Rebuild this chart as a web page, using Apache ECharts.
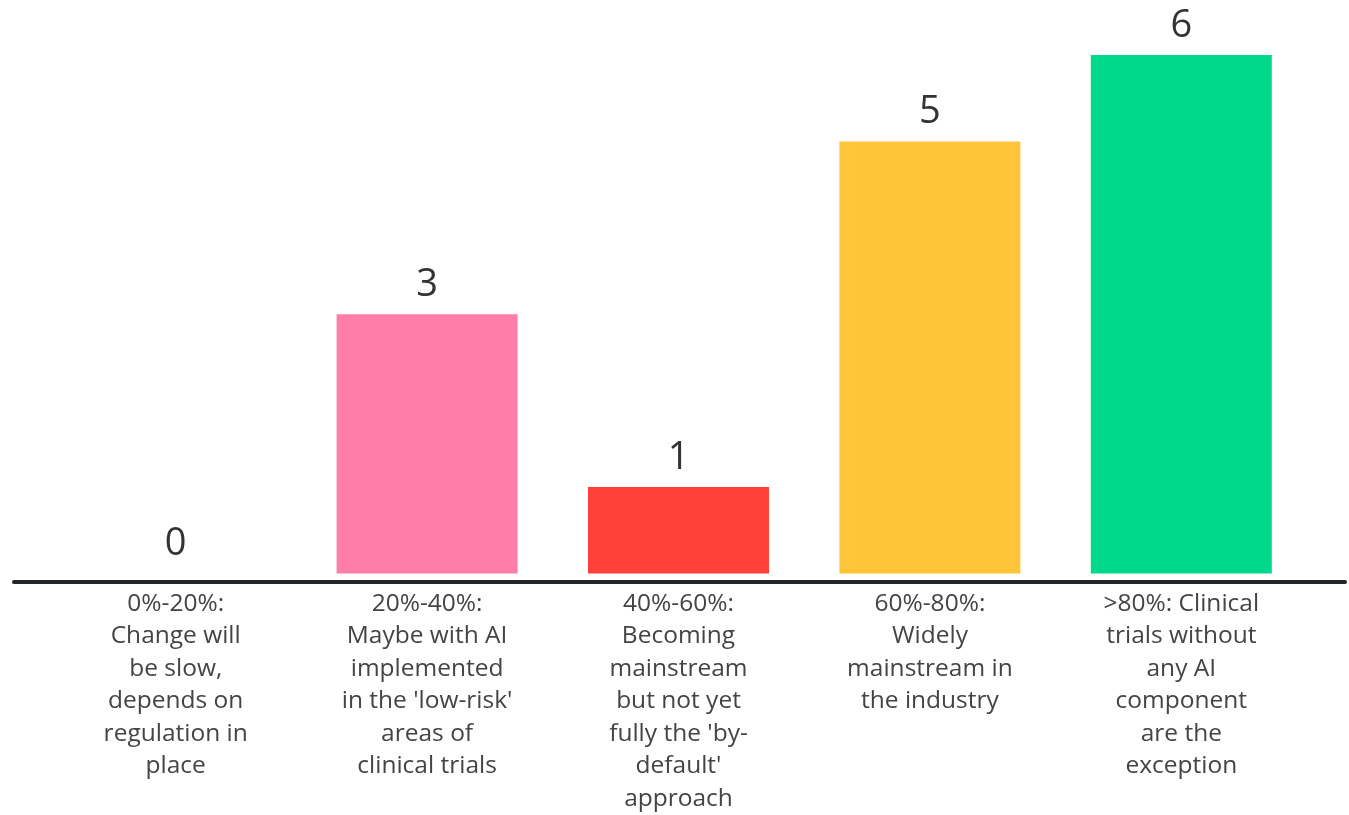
<!DOCTYPE html>
<html>
<head>
<meta charset="utf-8">
<script src="https://cdn.jsdelivr.net/npm/echarts@6/dist/echarts.min.js"></script>
<style>
  html, body { margin: 0; padding: 0; background: #fff; }
  #container { width: 1349px; height: 815px; }
</style>
</head>
<body>
<div id="container"></div>
<script>
const categories = [
  "0%-20%:\nChange will\nbe slow,\ndepends on\nregulation in\nplace",
  "20%-40%:\nMaybe with AI\nimplemented\nin the 'low-risk'\nareas of\nclinical trials",
  "40%-60%:\nBecoming\nmainstream\nbut not yet\nfully the 'by-\ndefault'\napproach",
  "60%-80%:\nWidely\nmainstream in\nthe industry",
  ">80%: Clinical\ntrials without\nany AI\ncomponent\nare the\nexception"
];
const values = [0, 3, 1, 5, 6];
const colors = ['#FF7EA9', '#FF7EA9', '#FF403B', '#FFC53A', '#00D98C'];

const chart = echarts.init(document.getElementById('container'));

const option = {
  backgroundColor: '#fff',
  animation: false,
  grid: [
    { left: 50, right: 42, top: 55, bottom: 233 },
    // only used for the long baseline
    { left: 14, right: 4, top: 55, bottom: 233 }
  ],
  xAxis: [{
    type: 'category',
    gridIndex: 0,
    data: categories,
    axisLine: { show: false },
    axisTick: { show: false },
    axisLabel: {
      interval: 0,
      margin: 14,
      color: '#444',
      fontFamily: 'Open Sans',
      fontSize: 24.5,
      lineHeight: 32.5,
      align: 'center'
    }
  }, {
    type: 'value',
    gridIndex: 1,
    min: 0,
    max: 1,
    axisLine: { show: true, lineStyle: { color: '#23262b', width: 4 } },
    axisTick: { show: false },
    axisLabel: { show: false },
    splitLine: { show: false }
  }],
  yAxis: [{
    type: 'value',
    gridIndex: 0,
    min: 0,
    max: 6,
    show: false
  }, {
    type: 'value',
    gridIndex: 1,
    min: 0,
    max: 1,
    show: false
  }],
  series: [{
    type: 'bar',
    xAxisIndex: 0,
    yAxisIndex: 0,
    barWidth: 181,
    data: values.map((v, i) => ({ value: v, itemStyle: { color: colors[i] } })),
    label: {
      show: true,
      position: 'top',
      distance: 10,
      color: '#333',
      fontFamily: 'Open Sans',
      fontSize: 38
    }
  }]
};

chart.setOption(option);
</script>
</body>
</html>
